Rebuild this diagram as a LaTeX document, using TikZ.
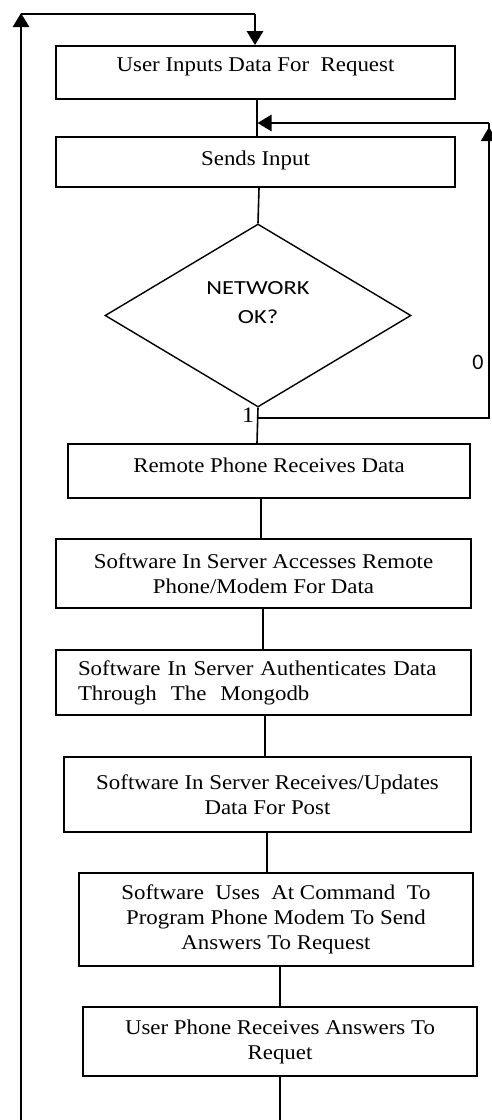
\documentclass[tikz,border=0pt]{standalone}
\usepackage{fontspec}
\setmainfont[FakeStretch=1.09]{Liberation Serif}
\newfontfamily\netfont[FakeStretch=1.22]{Carlito}
\newfontfamily\digitfont{Carlito}
\usetikzlibrary{arrows.meta,shapes.geometric}

\tikzset{
  stepbox/.style={draw, line width=1.8pt, rectangle, inner sep=0pt,
    align=center, font=\fontsize{21}{25}\selectfont},
  decision/.style={draw, line width=1.4pt, diamond, inner sep=0pt,
    minimum width=306pt, minimum height=183pt, aspect=1.672},
  flow/.style={line width=1.6pt},
  loopline/.style={line width=2.8pt},
  tip/.style={-{Triangle[length=14pt,width=16pt]}},
}

\begin{document}
\begin{tikzpicture}[x=1pt,y=-1pt]
\useasboundingbox (0,0) rectangle (491,1120);

% process steps
\node[stepbox, minimum width=399pt, minimum height=53pt, text height=10pt, text depth=12pt]
  (b1) at (255.5,72.5) {User Inputs Data For~ Request};
\node[stepbox, minimum width=399pt, minimum height=50pt, text height=12pt, text depth=6pt]
  (b2) at (255.5,162) {Sends Input};
\node[decision] (net) at (258,315.5) {};
\node[font=\netfont\fontsize{20}{29}\selectfont, align=center, inner sep=0pt]
  (nett) at (258,303) {NETWORK\\OK?};
\node[stepbox, minimum width=402pt, minimum height=54pt, text height=10pt, text depth=8pt]
  (b3) at (269,471) {Remote Phone Receives Data};
\node[stepbox, minimum width=415pt, minimum height=69pt]
  (b4) at (263.5,573.5) {Software In Server Accesses Remote\\Phone/Modem For Data};
\node[stepbox, minimum width=415pt, minimum height=65pt, text width=371pt, align=left]
  (b5) at (263.5,682.5) {Software In Server Authenticates Data\\Through~ The~ Mongodb};
\node[stepbox, minimum width=407pt, minimum height=75pt]
  (b6) at (267.5,794.5) {Software In Server Receives/Updates\\Data For Post};
\node[stepbox, minimum width=394pt, minimum height=93pt]
  (b7) at (276,919.5) {Software~ Uses~ At Command~ To\\Program Phone Modem To Send\\Answers To Request};
\node[stepbox, minimum width=394pt, minimum height=69pt]
  (b8) at (280,1041.5) {User Phone Receives Answers To\\Requet};

% branch labels
\node[font=\digitfont\fontsize{22}{22}\selectfont, inner sep=0pt] (lzero) at (478,362) {0};
\node[font=\fontsize{22}{22}\selectfont, inner sep=0pt] (lone) at (248,415) {1};

% helper points for the connector columns and the loops
\coordinate (x12) at (257,0);
\coordinate (x2n) at (259,0);
\coordinate (xn3) at (257,0);
\coordinate (x34) at (261,0);
\coordinate (x45) at (263,0);
\coordinate (x56) at (265,0);
\coordinate (x67) at (267,0);
\coordinate (x78) at (280,0);
\coordinate (out) at (280,1120);
\coordinate (lb) at (21,1120);
\coordinate (tl) at (21,14);
\coordinate (tr) at (255,14);
\coordinate (j) at (257,418);
\coordinate (rb) at (489,418);
\coordinate (rt) at (489,123);
\coordinate (rtt) at (489,127);
\coordinate (m12) at (257.5,123);

% main flow
\draw[flow] (b1.south -| x12) -- (b2.north -| x12);
\draw[flow] (b2.south -| x2n) -- (net.north);
\draw[flow] (net.south) -- (b3.north -| xn3);
\draw[flow] (b3.south -| x34) -- (b4.north -| x34);
\draw[flow] (b4.south -| x45) -- (b5.north -| x45);
\draw[flow] (b5.south -| x56) -- (b6.north -| x56);
\draw[flow] (b6.south -| x67) -- (b7.north -| x67);
\draw[flow] (b7.south -| x78) -- (b8.north -| x78);
\draw[flow] (b8.south -| x78) -- (out);

% retry loop when the network is not available
\draw[flow] (j) -- (rb) -- (rt);
\draw[flow, tip] (rb) -- (rtt);
\draw[loopline, tip] (rt) -- (m12);

% return loop to the start
\draw[loopline, line cap=rect, tip] (lb) -- ([yshift=1pt]tl);
\draw[loopline] (tl) -- (tr);
\draw[loopline, tip] (tr) -- (tr |- b1.north);
\end{tikzpicture}
\end{document}
